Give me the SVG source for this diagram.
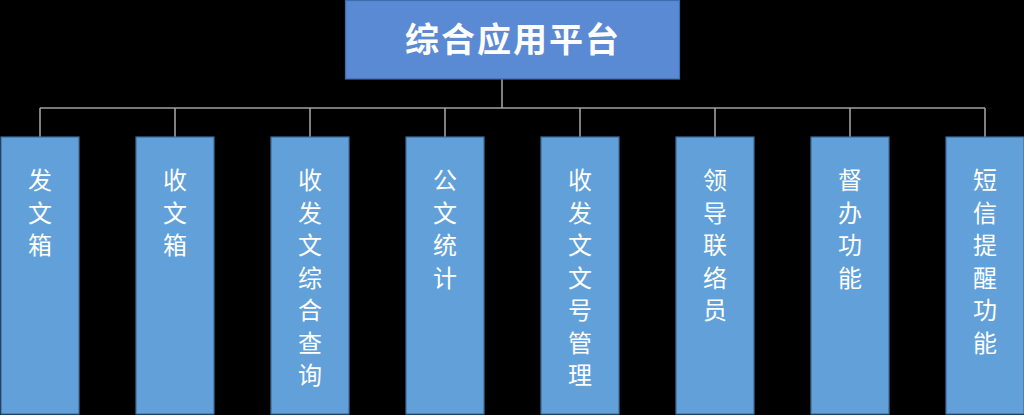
<svg xmlns="http://www.w3.org/2000/svg" width="1024" height="415" viewBox="0 0 1024 415">
<style>
.bg{fill:#000}
.root{fill:#5A8AD4;stroke:#3F6CAE;stroke-width:1.2}
.child{fill:#62A0D9;stroke:#3F6C98;stroke-width:1.2}
.t{fill:#fff;font-family:"Noto Sans CJK SC","Noto Sans",sans-serif;text-anchor:middle}
.title{font-size:34px;font-weight:bold;letter-spacing:2px}
.lbl{font-size:24px}
.conn{stroke:#A0A0A0;stroke-width:1.6;fill:none}
</style>
<rect class="bg" x="0" y="0" width="1024" height="415"/>
<g id="connectors">
<path class="conn" d="M502 79V108M40 108H985M40 108V137M175 108V137M310 108V137M445 108V137M580 108V137M715 108V137M850 108V137M985 108V137"/>
</g>
<g id="root">
<rect class="root" x="345.5" y="0.5" width="334" height="78.5"/>
<text class="t title" x="513" y="52">综合应用平台</text>
</g>
<g id="n1">
<rect class="child" x="1" y="137" width="78" height="277"/>
<text class="t lbl" x="40"><tspan x="40" y="189">发</tspan><tspan x="40" dy="32.5">文</tspan><tspan x="40" dy="32.5">箱</tspan></text>
</g>
<g id="n2">
<rect class="child" x="136" y="137" width="78" height="277"/>
<text class="t lbl"><tspan x="175" y="189">收</tspan><tspan x="175" dy="32.5">文</tspan><tspan x="175" dy="32.5">箱</tspan></text>
</g>
<g id="n3">
<rect class="child" x="271" y="137" width="78" height="277"/>
<text class="t lbl"><tspan x="310" y="189">收</tspan><tspan x="310" dy="32.5">发</tspan><tspan x="310" dy="32.5">文</tspan><tspan x="310" dy="32.5">综</tspan><tspan x="310" dy="32.5">合</tspan><tspan x="310" dy="32.5">查</tspan><tspan x="310" dy="32.5">询</tspan></text>
</g>
<g id="n4">
<rect class="child" x="406" y="137" width="78" height="277"/>
<text class="t lbl"><tspan x="445" y="189">公</tspan><tspan x="445" dy="32.5">文</tspan><tspan x="445" dy="32.5">统</tspan><tspan x="445" dy="32.5">计</tspan></text>
</g>
<g id="n5">
<rect class="child" x="541" y="137" width="78" height="277"/>
<text class="t lbl"><tspan x="580" y="189">收</tspan><tspan x="580" dy="32.5">发</tspan><tspan x="580" dy="32.5">文</tspan><tspan x="580" dy="32.5">文</tspan><tspan x="580" dy="32.5">号</tspan><tspan x="580" dy="32.5">管</tspan><tspan x="580" dy="32.5">理</tspan></text>
</g>
<g id="n6">
<rect class="child" x="676" y="137" width="78" height="277"/>
<text class="t lbl"><tspan x="715" y="189">领</tspan><tspan x="715" dy="32.5">导</tspan><tspan x="715" dy="32.5">联</tspan><tspan x="715" dy="32.5">络</tspan><tspan x="715" dy="32.5">员</tspan></text>
</g>
<g id="n7">
<rect class="child" x="811" y="137" width="78" height="277"/>
<text class="t lbl"><tspan x="850" y="189">督</tspan><tspan x="850" dy="32.5">办</tspan><tspan x="850" dy="32.5">功</tspan><tspan x="850" dy="32.5">能</tspan></text>
</g>
<g id="n8">
<rect class="child" x="946" y="137" width="78" height="277"/>
<text class="t lbl"><tspan x="985" y="189">短</tspan><tspan x="985" dy="32.5">信</tspan><tspan x="985" dy="32.5">提</tspan><tspan x="985" dy="32.5">醒</tspan><tspan x="985" dy="32.5">功</tspan><tspan x="985" dy="32.5">能</tspan></text>
</g>
</svg>
